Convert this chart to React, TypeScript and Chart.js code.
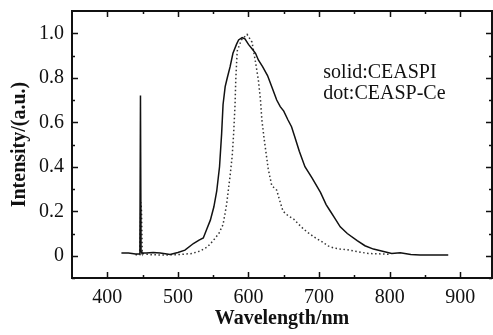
import { useEffect, useRef } from 'react';
import { Chart, registerables } from 'chart.js';

Chart.register(...registerables);

// CEASPI (solid line)
const solidWavelength = [420, 430, 440, 445, 446.2, 447, 447.8, 449, 455, 465, 475, 489, 500, 510, 522, 530, 536, 541, 546, 551, 555, 559, 562, 564, 567, 570, 574, 578, 583, 586, 591, 595, 600, 605, 610, 614, 620, 627, 633, 640, 645, 650, 656, 661, 666, 672, 680, 690, 702, 710, 716, 722, 730, 740, 754, 765, 777, 790, 803, 815, 830, 843, 860, 883];
const solidIntensity = [0.012, 0.012, 0.008, 0.008, 0.01, 0.72, 0.02, 0.012, 0.012, 0.015, 0.012, 0.006, 0.015, 0.025, 0.055, 0.07, 0.08, 0.12, 0.16, 0.22, 0.29, 0.4, 0.55, 0.68, 0.76, 0.8, 0.85, 0.91, 0.95, 0.97, 0.98, 0.975, 0.95, 0.93, 0.91, 0.88, 0.85, 0.81, 0.76, 0.7, 0.67, 0.65, 0.61, 0.58, 0.53, 0.47, 0.4, 0.35, 0.285, 0.23, 0.2, 0.17, 0.13, 0.1, 0.068, 0.045, 0.03, 0.02, 0.01, 0.013, 0.006, 0.003, 0.003, 0.003];

// CEASP-Ce (dotted line)
const dotWavelength = [440, 446, 447.6, 448.5, 449.5, 460, 480, 500, 520, 532, 542, 550, 558, 564, 569, 574, 577, 579, 581, 582, 584, 590, 598, 605, 610, 614, 617, 619, 622, 625, 628, 633, 640, 645, 649, 656, 664, 670, 678, 686, 695, 706, 712, 720, 730, 740, 755, 770, 790, 800];
const dotIntensity = [0.005, 0.005, 0.24, 0.2, 0.01, 0.005, 0.003, 0.005, 0.01, 0.022, 0.04, 0.068, 0.1, 0.14, 0.23, 0.36, 0.45, 0.55, 0.68, 0.79, 0.92, 0.97, 0.995, 0.96, 0.87, 0.79, 0.7, 0.61, 0.53, 0.46, 0.39, 0.315, 0.295, 0.24, 0.2, 0.18, 0.165, 0.145, 0.12, 0.1, 0.08, 0.06, 0.045, 0.036, 0.03, 0.027, 0.018, 0.01, 0.008, 0.006];

const xTickValues = [400, 500, 600, 700, 800, 900];
const xMinorValues = [450, 550, 650, 750, 850];
const yTickValues = [0, 0.2, 0.4, 0.6, 0.8, 1.0];
const yMinorValues = [-0.1, 0.1, 0.3, 0.5, 0.7, 0.9];
const annotationLines = ['solid:CEASPI', 'dot:CEASP-Ce'];
const annotationAnchor = { x: 706, y: 0.8, yStep: 0.095 };

const FONT = "'Liberation Serif', 'Times New Roman', serif";

const framePlugin = {
  id: 'frameTicks',
  afterDraw(chart: any) {
    const { ctx, chartArea, scales } = chart;
    const { left, right, top, bottom } = chartArea;
    ctx.save();
    ctx.strokeStyle = '#111';
    ctx.lineWidth = 2;
    ctx.strokeRect(left, top, right - left, bottom - top);
    ctx.lineWidth = 1.5;
    const drawX = (v: number, len: number) => {
      const px = Math.round(scales.x.getPixelForValue(v)) + 0.5;
      ctx.beginPath();
      ctx.moveTo(px, bottom);
      ctx.lineTo(px, bottom - len);
      ctx.moveTo(px, top);
      ctx.lineTo(px, top + len);
      ctx.stroke();
    };
    const drawY = (v: number, len: number) => {
      const py = Math.round(scales.y.getPixelForValue(v)) + 0.5;
      ctx.beginPath();
      ctx.moveTo(left, py);
      ctx.lineTo(left + len, py);
      ctx.moveTo(right, py);
      ctx.lineTo(right - len, py);
      ctx.stroke();
    };
    xTickValues.forEach((v) => drawX(v, 6));
    xMinorValues.forEach((v) => drawX(v, 3));
    yTickValues.forEach((v) => drawY(v, 6));
    yMinorValues.forEach((v) => drawY(v, 3));

    ctx.fillStyle = '#111';
    ctx.font = `20px ${FONT}`;
    ctx.textAlign = 'left';
    ctx.textBaseline = 'alphabetic';
    annotationLines.forEach((t, i) => {
      const px = scales.x.getPixelForValue(annotationAnchor.x);
      const py = scales.y.getPixelForValue(annotationAnchor.y - i * annotationAnchor.yStep);
      ctx.fillText(t, px, py);
    });
    ctx.restore();
  },
};

export default function App() {
  const canvasRef = useRef<HTMLCanvasElement | null>(null);

  useEffect(() => {
    document.body.style.margin = '0';
    const canvas = canvasRef.current;
    if (!canvas) return;
    const chart = new Chart(canvas, {
      type: 'line',
      data: {
        datasets: [
          {
            label: 'CEASPI',
            data: solidWavelength.map((x, i) => ({ x, y: solidIntensity[i] })),
            borderColor: '#111',
            borderWidth: 1.5,
            pointRadius: 0,
            tension: 0,
            fill: false,
          },
          {
            label: 'CEASP-Ce',
            data: dotWavelength.map((x, i) => ({ x, y: dotIntensity[i] })),
            borderColor: '#333',
            borderWidth: 1.5,
            borderDash: [1.5, 2.5],
            pointRadius: 0,
            tension: 0,
            fill: false,
          },
        ],
      },
      options: {
        animation: false,
        responsive: false,
        devicePixelRatio: 1,
        layout: { padding: { top: 11, right: 1, left: 0, bottom: 0 } },
        plugins: { legend: { display: false }, tooltip: { enabled: false } },
        scales: {
          x: {
            type: 'linear',
            min: 350,
            max: 945,
            grid: { display: false, drawTicks: false },
            border: { display: false },
            afterBuildTicks: (scale: any) => {
              scale.ticks = xTickValues.map((v) => ({ value: v }));
            },
            afterFit: (scale: any) => {
              scale.height = 57;
              scale.paddingLeft = 0;
              scale.paddingRight = 0;
            },
            ticks: {
              padding: 8,
              color: '#111',
              font: { family: FONT, size: 20 },
              maxRotation: 0,
              callback: (v: any) => String(v),
            },
            title: {
              display: true,
              text: 'Wavelength/nm',
              color: '#111',
              font: { family: FONT, size: 20, weight: 'bold' },
              padding: { top: 0, bottom: 4 },
            },
          },
          y: {
            type: 'linear',
            min: -0.1,
            max: 1.1,
            grid: { display: false, drawTicks: false },
            border: { display: false },
            afterBuildTicks: (scale: any) => {
              scale.ticks = yTickValues.map((v) => ({ value: v }));
            },
            afterFit: (scale: any) => {
              scale.width = 72;
              scale.paddingTop = 0;
              scale.paddingBottom = 0;
            },
            ticks: {
              padding: 8,
              color: '#111',
              font: { family: FONT, size: 20 },
              callback: (v: any) => (v === 0 ? '0' : Number(v).toFixed(1)),
            },
            title: {
              display: true,
              text: 'Intensity/(a.u.)',
              color: '#111',
              font: { family: FONT, size: 20, weight: 'bold' },
              padding: { top: 8, bottom: 0 },
            },
          },
        },
      },
      plugins: [framePlugin],
    } as any);
    return () => chart.destroy();
  }, []);

  return (
    <div style={{ width: 493, height: 335, background: '#fff' }}>
      <canvas ref={canvasRef} width={493} height={335} />
    </div>
  );
}
